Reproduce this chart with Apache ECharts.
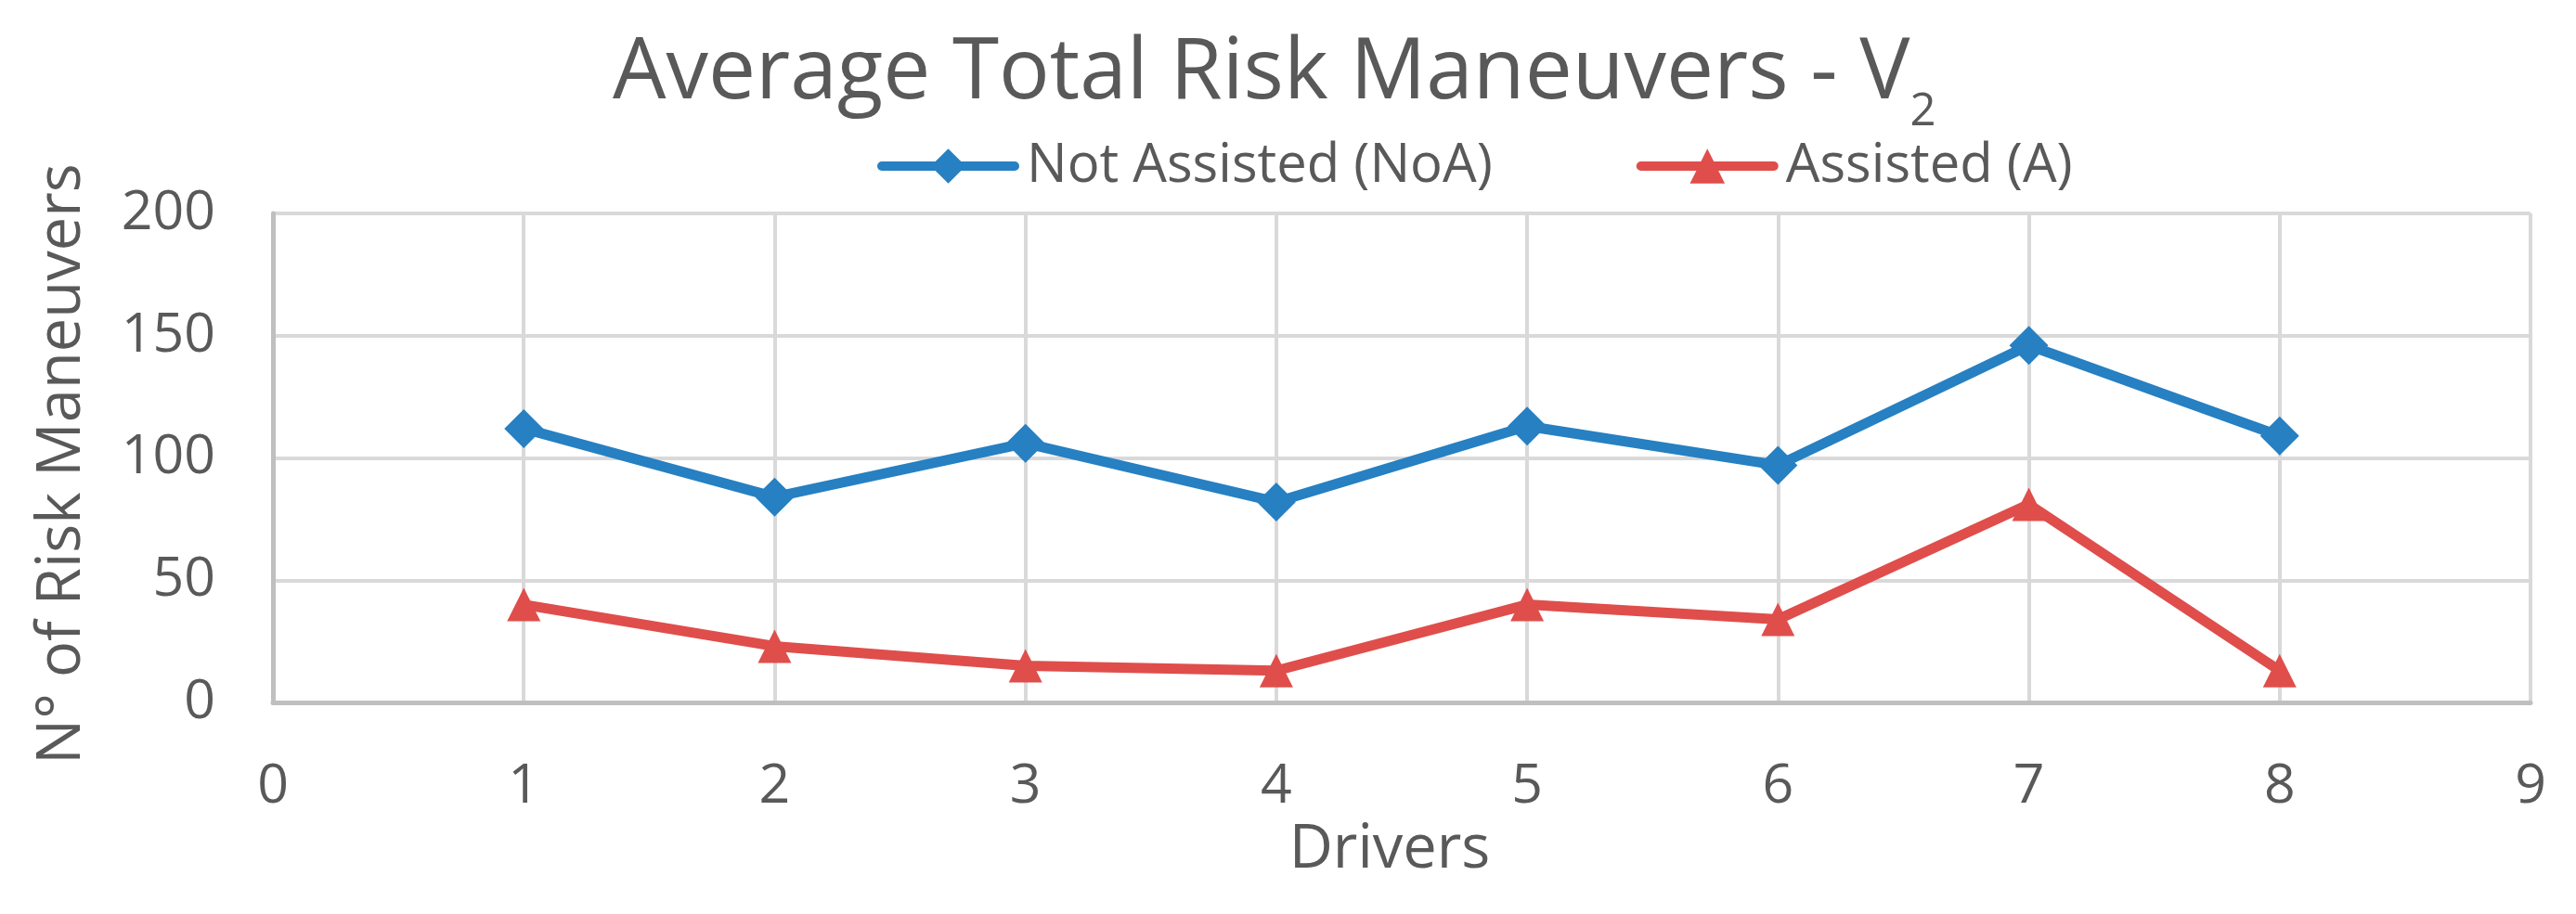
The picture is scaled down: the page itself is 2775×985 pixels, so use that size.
<!DOCTYPE html>
<html>
<head>
<meta charset="utf-8">
<script src="https://cdn.jsdelivr.net/npm/echarts@6/dist/echarts.min.js"></script>
<style>
html,body{margin:0;padding:0;background:#fff;}
#chart{width:2775px;height:985px;}
</style>
</head>
<body>
<div id="chart"></div>
<script>
// ---- data ----
const drivers = [1, 2, 3, 4, 5, 6, 7, 8];
const notAssisted = [112, 84, 106, 82, 113, 97, 146, 109];
const assisted = [40, 23, 15, 13, 40, 34, 81, 13];
const seriesNames = ['Not Assisted (NoA)', 'Assisted (A)'];
const xTicks = [0, 9, 1];      // min, max, interval
const yTicks = [0, 200, 50];   // min, max, interval

const FONT = 'Open Sans';
const TXT = '#595959';
const BLUE = '#2680C2';
const RED = '#DF4E4B';

const chart = echarts.init(document.getElementById('chart'), null, {renderer: 'canvas'});

const toPairs = (xs, ys) => xs.map((x, i) => [x, ys[i]]);

chart.setOption({
  backgroundColor: '#ffffff',
  animation: false,
  title: {
    text: '{a|Average Total Risk Maneuvers - V}{b|2}',
    left: 660,
    top: 30,
    padding: 0,
    textStyle: {
      fontWeight: 'normal',
      rich: {
        a: {fontFamily: FONT, fontSize: 91, fontWeight: 'normal', color: TXT, lineHeight: 100},
        b: {fontFamily: FONT, fontSize: 49, fontWeight: 'normal', color: TXT, lineHeight: 30,
            verticalAlign: 'top', padding: [67, 0, 0, 0]}
      }
    }
  },
  legend: {
    left: 945,
    top: 150,
    padding: 0,
    itemWidth: 143,
    itemHeight: 47,
    itemGap: 155,
    lineStyle: {width: 10, cap: 'round'},
    textStyle: {fontFamily: FONT, fontSize: 58, color: TXT, padding: [0, 0, 0, 8]},
    data: seriesNames
  },
  grid: {left: 294, right: 49, top: 230, bottom: 228, containLabel: false},
  xAxis: {
    type: 'value',
    min: xTicks[0], max: xTicks[1], interval: xTicks[2],
    name: 'Drivers',
    nameLocation: 'middle',
    nameGap: 127,
    nameTextStyle: {fontFamily: FONT, fontSize: 65, color: TXT, padding: [0, 26, 0, 0]},
    axisLine: {show: true, onZero: false, lineStyle: {color: '#BFBFBF', width: 5}},
    axisTick: {show: false},
    axisLabel: {fontFamily: FONT, fontSize: 59, color: TXT, margin: 62},
    splitLine: {show: true, lineStyle: {color: '#D9D9D9', width: 4}}
  },
  yAxis: {
    type: 'value',
    min: yTicks[0], max: yTicks[1], interval: yTicks[2],
    name: 'N° of Risk Maneuvers',
    nameLocation: 'middle',
    nameGap: 194,
    nameTextStyle: {fontFamily: FONT, fontSize: 65, color: TXT, padding: [0, 13, 0, 0]},
    axisLine: {show: true, lineStyle: {color: '#BFBFBF', width: 5}},
    axisTick: {show: false},
    axisLabel: {fontFamily: FONT, fontSize: 59, color: TXT, margin: 62},
    splitLine: {show: true, lineStyle: {color: '#D9D9D9', width: 4}}
  },
  series: [
    {
      name: seriesNames[0],
      type: 'line',
      data: toPairs(drivers, notAssisted),
      symbol: 'diamond',
      symbolSize: 42,
      lineStyle: {color: BLUE, width: 11},
      itemStyle: {color: BLUE},
      z: 3
    },
    {
      name: seriesNames[1],
      type: 'line',
      data: toPairs(drivers, assisted),
      symbol: 'triangle',
      symbolSize: 36,
      lineStyle: {color: RED, width: 11},
      itemStyle: {color: RED},
      z: 3
    }
  ]
});
</script>
</body>
</html>
